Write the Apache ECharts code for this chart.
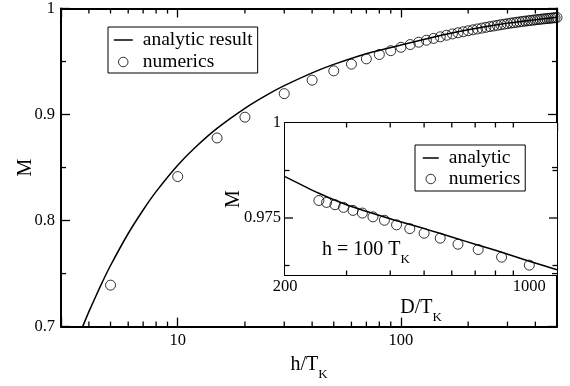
<!DOCTYPE html>
<html><head><meta charset="utf-8">
<script src="https://cdn.jsdelivr.net/npm/echarts@6/dist/echarts.min.js"></script>
<style>html,body{margin:0;padding:0;background:#fff}#c{width:570px;height:386px}</style>
</head><body><div id="c"></div>
<script>
// ---- data ----
const mainAnalyticH = [3.6, 3.75, 4, 4.5, 5, 6, 7, 8, 10, 12, 15, 20, 25, 30, 40, 50, 70, 100, 150, 200, 300, 400, 500];
const mainAnalyticM = [0.6906, 0.7000, 0.7141, 0.7379, 0.7576, 0.7878, 0.8100, 0.8273, 0.8522, 0.8692, 0.8870, 0.9059, 0.9183, 0.9272, 0.9393, 0.9473, 0.9574, 0.9655, 0.9745, 0.9800, 0.9862, 0.9895, 0.9918];
const mainNumH = [5, 10, 15, 20, 30, 40, 50, 60, 70, 80, 90, 100, 110, 120, 130, 140, 150, 160, 170, 180, 190, 200,
  210, 220, 230, 240, 250, 260, 270, 280, 290, 300, 310, 320, 330, 340, 350, 360, 370, 380, 390, 400,
  410, 420, 430, 440, 450, 460, 470, 480, 490, 500];
const mainNumM = [0.7391, 0.8415, 0.8779, 0.8975, 0.9197, 0.9324, 0.9412, 0.9475, 0.9525, 0.9566, 0.9602, 0.9634, 0.9660, 0.9682, 0.9701, 0.9718, 0.9733, 0.9748, 0.9760, 0.9771, 0.9781, 0.9790,
  0.9799, 0.9807, 0.9815, 0.9822, 0.9829, 0.9835, 0.9841, 0.9847, 0.9852, 0.9857, 0.9862, 0.9866, 0.9870, 0.9874, 0.9878, 0.9881, 0.9884, 0.9887, 0.9890, 0.9893,
  0.9896, 0.9898, 0.9901, 0.9903, 0.9905, 0.9907, 0.9909, 0.9911, 0.9913, 0.9915];

const insetAnalyticD = [200, 250, 300, 400, 500, 600, 700, 800, 1000, 1200];
const insetAnalyticM = [0.9859, 0.9815, 0.9785, 0.9748, 0.9722, 0.9700, 0.9681, 0.9665, 0.9636, 0.9614];
const insetNumD = [250, 263, 278, 294, 313, 333, 357, 385, 417, 455, 500, 556, 625, 714, 833, 1000];
const insetNumM = [0.9796, 0.9791, 0.9785, 0.9778, 0.9770, 0.9763, 0.9753, 0.9744, 0.9732, 0.9722, 0.9710, 0.9697, 0.9681, 0.9667, 0.9647, 0.9626];

// tick labels
const mainXLabels = ['10', '100'];
const mainYLabels = ['0.7', '0.8', '0.9', '1'];
const insetXLabels = ['200', '1000'];
const insetYLabels = ['0.975', '1'];
// minor tick positions
const mainMinorX = [4, 5, 6, 7, 8, 9, 20, 30, 40, 50, 60, 70, 80, 90, 200, 300, 400];
const mainMinorY = [0.75, 0.85, 0.95];
const insetMinorX = [300, 400, 500, 600, 700, 800, 900];
const insetMajorY = [0.975];
const insetMinorY = [0.9625, 0.9875];
// axis ranges
const mainXRange = [3, 500], mainYRange = [0.7, 1];
const insetXRange = [200, 1200], insetYRange = [0.96, 1];

const FONT = 'Liberation Serif';
const zip = (a, b) => a.map((v, i) => [v, b[i]]);
const fmt = labels => v => {
  const s = labels.find(l => Math.abs(Number(l) - v) <= Math.abs(Number(l)) * 1e-6);
  return s || '';
};
const lineCol = '#000';

function xAxisCfg(grid, range, pos, labels, extra) {
  return Object.assign({
    type: 'log', logBase: 10, gridIndex: grid, min: range[0], max: range[1], position: pos,
    axisLine: { show: true, onZero: false, lineStyle: { color: lineCol, width: 2 } },
    axisTick: { show: true, inside: true, length: extra.tickLen, lineStyle: { color: lineCol, width: 1.3 } },
    axisLabel: labels ? { show: true, margin: extra.margin, fontSize: 16.5, fontFamily: FONT, color: '#000',
      formatter: fmt(labels), showMinLabel: true, showMaxLabel: false } : { show: false },
    splitLine: { show: false }, minorTick: { show: false }
  }, extra.more || {});
}
function yAxisCfg(grid, range, pos, labels, extra) {
  return Object.assign({
    type: 'value', gridIndex: grid, min: range[0], max: range[1], interval: extra.interval, position: pos,
    axisLine: { show: true, onZero: false, lineStyle: { color: lineCol, width: 2 } },
    axisTick: { show: extra.showTick, inside: true, length: extra.tickLen, lineStyle: { color: lineCol, width: 1.3 } },
    axisLabel: labels ? { show: true, margin: extra.margin, fontSize: 16.5, fontFamily: FONT, color: '#000',
      formatter: fmt(labels), showMinLabel: true, showMaxLabel: true } : { show: false },
    splitLine: { show: false }, minorTick: { show: false }
  }, extra.more || {});
}

function tickSeries(xi, yi, vals, dir, xr, yr, len) {
  return {
    type: 'custom', xAxisIndex: xi, yAxisIndex: yi, silent: true, clip: false, z: 5,
    data: vals.map(v => dir === 'x' ? [v, yr[0]] : [xr[0], v]),
    renderItem: function (params, api) {
      const st = { stroke: lineCol, lineWidth: 1.3 };
      if (dir === 'x') {
        const v = api.value(0);
        const b = api.coord([v, yr[0]]), t = api.coord([v, yr[1]]);
        return { type: 'group', children: [
          { type: 'line', shape: { x1: b[0], y1: b[1], x2: b[0], y2: b[1] - len }, style: st },
          { type: 'line', shape: { x1: t[0], y1: t[1], x2: t[0], y2: t[1] + len }, style: st }
        ] };
      } else {
        const v = api.value(1);
        const l = api.coord([xr[0], v]), r = api.coord([xr[1], v]);
        return { type: 'group', children: [
          { type: 'line', shape: { x1: l[0], y1: l[1], x2: l[0] + len, y2: l[1] }, style: st },
          { type: 'line', shape: { x1: r[0], y1: r[1], x2: r[0] - len, y2: r[1] }, style: st }
        ] };
      }
    }
  };
}

const nameRich = {
  a: { fontSize: 20, fontFamily: FONT, color: '#000' },
  b: { fontSize: 13, fontFamily: FONT, color: '#000', padding: [20, 0, 0, 0] }
};
const circleStyle = { color: 'rgba(0,0,0,0)', borderColor: '#000', borderWidth: 1 };
const lineLegendItem = name => ({ name: name, itemStyle: { color: 'rgba(0,0,0,0)', borderWidth: 0, opacity: 0 },
  lineStyle: { color: '#000', width: 1.5, opacity: 1 } });

const option = {
  animation: false,
  backgroundColor: '#fff',
  grid: [
    { left: 61, right: 13, top: 4, bottom: 52, containLabel: false },
    { left: 285, right: 13, top: 123, bottom: 111, containLabel: false, show: true, backgroundColor: '#fff', borderWidth: 0, z: 3 }
  ],
  xAxis: [
    xAxisCfg(0, mainXRange, 'bottom', mainXLabels, { tickLen: 9, margin: 6, more: {
      name: '{a|h/T}{b|K}', nameLocation: 'middle', nameGap: 12, nameTextStyle: { rich: nameRich, verticalAlign: 'top' } } }),
    xAxisCfg(0, mainXRange, 'top', null, { tickLen: 9 }),
    xAxisCfg(1, insetXRange, 'bottom', insetXLabels, { tickLen: 8, margin: 3, more: {
      name: '{a|D/T}{b|K}', nameLocation: 'middle', nameGap: 16, nameTextStyle: { rich: nameRich, verticalAlign: 'top' } } }),
    xAxisCfg(1, insetXRange, 'top', null, { tickLen: 8 })
  ],
  yAxis: [
    yAxisCfg(0, mainYRange, 'left', mainYLabels, { interval: 0.1, showTick: true, tickLen: 9, margin: 6, more: {
      name: 'M', nameLocation: 'middle', nameGap: 25, nameMoveOverlap: false,
      nameTextStyle: { fontSize: 20, fontFamily: FONT, color: '#000' } } }),
    yAxisCfg(0, mainYRange, 'right', null, { interval: 0.1, showTick: true, tickLen: 9 }),
    yAxisCfg(1, insetYRange, 'left', insetYLabels, { interval: 0.0025, showTick: false, tickLen: 8, margin: 4, more: {
      name: 'M', nameLocation: 'middle', nameGap: 41, nameMoveOverlap: false,
      nameTextStyle: { fontSize: 20, fontFamily: FONT, color: '#000' } } }),
    yAxisCfg(1, insetYRange, 'right', null, { interval: 0.0025, showTick: false, tickLen: 8 })
  ],
  legend: [
    {
      orient: 'vertical', left: 108, top: 27, selectedMode: false,
      data: [lineLegendItem('analytic result'), { name: 'numerics', icon: 'circle', itemStyle: circleStyle }],
      itemWidth: 19, itemHeight: 9.5, itemGap: 2, padding: [3, 5, 1, 5],
      borderColor: '#000', borderWidth: 1, borderRadius: 0, backgroundColor: '#fff',
      textStyle: { fontFamily: FONT, fontSize: 19.5, color: '#000', padding: [0, 0, 0, 5] }
    },
    {
      orient: 'vertical', left: 415, top: 145, selectedMode: false, z: 10,
      data: [lineLegendItem('analytic'), { name: 'numerics', icon: 'circle', itemStyle: circleStyle }],
      itemWidth: 16, itemHeight: 9.5, itemGap: 1, padding: [3, 5, 2, 7],
      borderColor: '#000', borderWidth: 1, borderRadius: 0, backgroundColor: '#fff',
      textStyle: { fontFamily: FONT, fontSize: 19.5, color: '#000', padding: [0, 0, 0, 5] }
    }
  ],
  graphic: [
    { type: 'text', left: 322, top: 240, z: 20,
      style: { text: '{a|h = 100 T}{b|K}', rich: nameRich } }
  ],
  series: [
    { name: 'analytic result', type: 'line', xAxisIndex: 0, yAxisIndex: 0, data: zip(mainAnalyticH, mainAnalyticM),
      symbol: 'none', smooth: 0.15, clip: true, lineStyle: { color: '#000', width: 1.5 }, itemStyle: { color: '#000' } },
    { name: 'numerics', type: 'scatter', xAxisIndex: 0, yAxisIndex: 0, data: zip(mainNumH, mainNumM),
      symbol: 'circle', symbolSize: 10, itemStyle: circleStyle },
    { name: 'analytic', type: 'line', xAxisIndex: 2, yAxisIndex: 2, data: zip(insetAnalyticD, insetAnalyticM), z: 6,
      symbol: 'none', smooth: 0.2, clip: true, lineStyle: { color: '#000', width: 1.5 }, itemStyle: { color: '#000' } },
    { name: 'numerics', type: 'scatter', xAxisIndex: 2, yAxisIndex: 2, data: zip(insetNumD, insetNumM), z: 6,
      symbol: 'circle', symbolSize: 10, itemStyle: circleStyle },
    tickSeries(0, 0, mainMinorX, 'x', mainXRange, mainYRange, 5),
    tickSeries(0, 0, mainMinorY, 'y', mainXRange, mainYRange, 5),
    tickSeries(2, 2, insetMinorX, 'x', insetXRange, insetYRange, 4.5),
    tickSeries(2, 2, insetMinorY, 'y', insetXRange, insetYRange, 4.5),
    tickSeries(2, 2, insetMajorY, 'y', insetXRange, insetYRange, 8)
  ]
};
const chart = echarts.init(document.getElementById('c'), null, { renderer: 'canvas' });
chart.setOption(option);
</script></body></html>
